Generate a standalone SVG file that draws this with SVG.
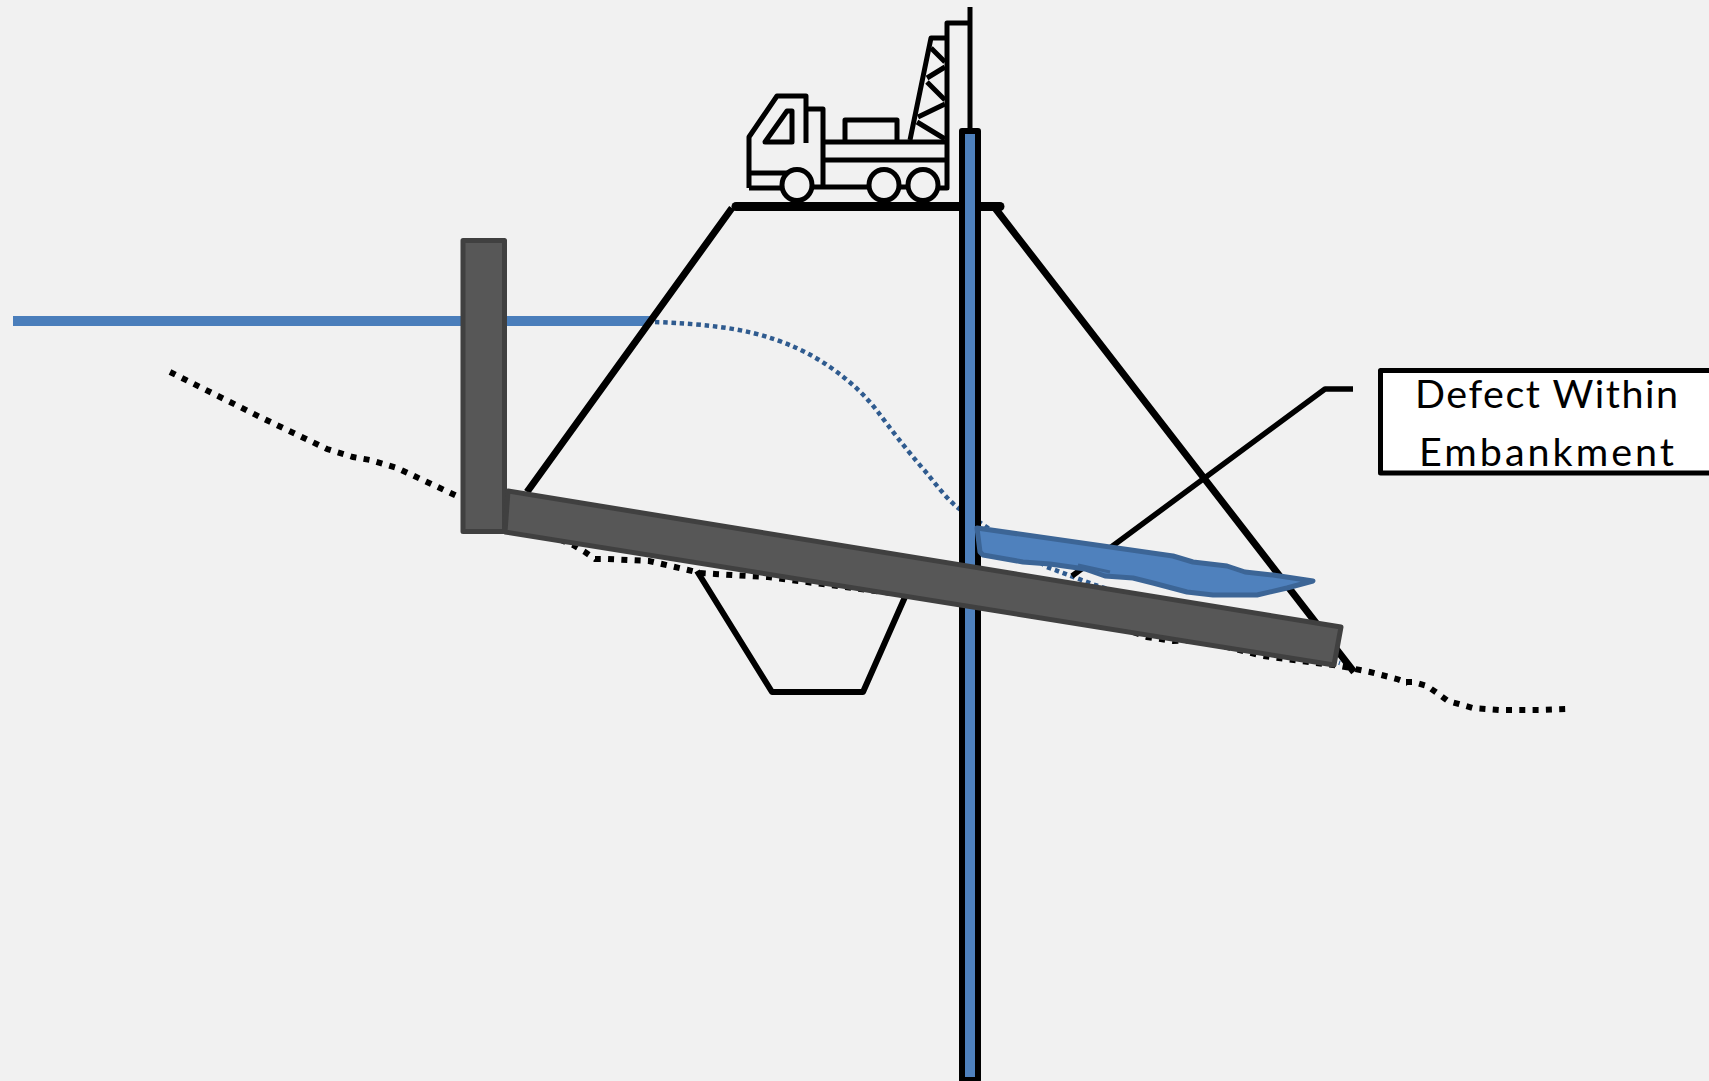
<svg xmlns="http://www.w3.org/2000/svg" width="1709" height="1081" viewBox="0 0 1709 1081">
<style>
.k{fill:none;stroke:#000;stroke-linejoin:round}
.g{fill:#575757;stroke:#404040;stroke-width:5;stroke-linejoin:round}
.t{font-family:Lato,"Noto Sans",sans-serif;font-size:39.5px;fill:#000}
</style>
<rect width="1709" height="1081" fill="#f1f1f1"/>
<g id="water"><path d="M13 321H651" fill="none" stroke="#4a7ebb" stroke-width="10"/>
<path d="M655 322C680 323 720 325 753 333C785 341 810 353 830 367C850 381 865 395 878 412C890 428 905 448 925 471C935 483 945 497 958 508L1047 567L1095 585L1340 663" fill="none" stroke="#2f5b8f" stroke-width="4.5" stroke-dasharray="4.5 3.8"/></g>
<g id="ground"><path d="M170 372L260 417L327 449L353 457L370 460L397 468L457 496L573 545L585 552L595 559L608 559L649 561L662 564L688 570L700 573L715 574L768 577L1100 620L1147 637L1173 641L1200 640L1263 656L1340 666L1355 669L1370 672L1397 679L1408 683M1406 682L1413 682L1427 686L1437 693L1448 701L1473 708L1500 710L1540 710L1568 709" fill="none" stroke="#000" stroke-width="6" stroke-dasharray="6 7.3"/></g>
<g id="embankment"><path class="k" stroke-width="7" d="M527 492L732 208M995 208L1354 672"/>
<path class="k" stroke-width="9" stroke-linecap="round" d="M736 206.500H1000"/>
<path class="k" stroke-width="6" d="M697 571L772 692H863L905 597"/></g>
<g id="truck" class="k" stroke-width="5">
<path d="M749 188V137L777 96H806V143M806 109H823V185"/>
<path d="M765 142L787 111H792V142Z"/>
<path d="M749 173H787M749 188H783M812 187H870M898 187H910M938 188H947V23H968M823 142H945M823 160H947"/>
<path d="M845 140V120H897V140"/>
<path d="M910 140L931 38H945"/>
<path d="M931 48L945 62M945 67L927 78M927 82L945 100M945 104L918 117M917 122L945 139"/>
<path d="M970 7V130"/>
<ellipse cx="797" cy="185" rx="15" ry="15.500"/><ellipse cx="884" cy="185" rx="15" ry="15.500"/><ellipse cx="923" cy="185" rx="15" ry="15.500"/>
</g>
<g id="casing"><rect x="962" y="131" width="16" height="949" fill="#4f81bd" stroke="#000" stroke-width="6" stroke-linejoin="round"/></g>
<g id="wall"><rect class="g" x="463" y="240.500" width="41.500" height="291"/></g>
<g id="blanket"><path class="g" d="M508 491L1341 627L1334 665L505 532Z"/></g>
<g id="leader"><path class="k" stroke-width="5.500" d="M1353 389H1325L1072 576"/></g>
<g id="defect"><path d="M977 528L1173 556L1193 562L1227 566L1245 572L1273 575L1313 581L1287 588L1257 595L1213 595L1187 592L1153 583L1133 578L1105 576L1085 569L1050 564L1023 562L983 555L980 552Z" fill="#4f81bd" stroke="#3c6596" stroke-width="5" stroke-linejoin="round"/>
<path d="M1078 565L1110 572" fill="none" stroke="#3c6596" stroke-width="3"/></g>
<g id="label"><rect x="1380.500" y="370.500" width="340" height="102.500" fill="#fff" stroke="#000" stroke-width="5" stroke-linejoin="round"/>
<text class="t" x="1415" y="408" textLength="263" lengthAdjust="spacing">Defect Within</text><text class="t" x="1419" y="466" textLength="255" lengthAdjust="spacing">Embankment</text></g>
</svg>
